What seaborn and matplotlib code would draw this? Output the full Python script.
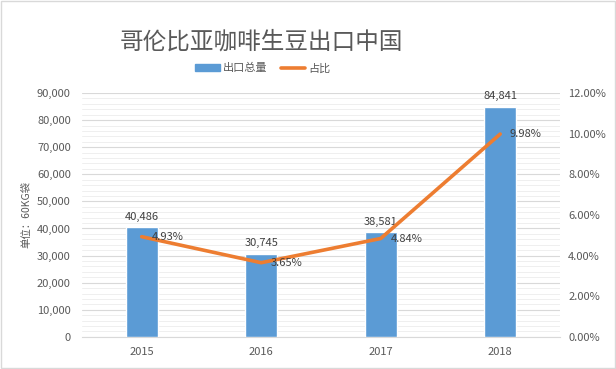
import numpy as np
import pandas as pd
import matplotlib
matplotlib.use("Agg")
import matplotlib.pyplot as plt
from matplotlib.patches import Rectangle
from matplotlib.lines import Line2D
from matplotlib.ticker import FuncFormatter, MultipleLocator, FixedLocator
import seaborn as sns

# data
years = ["2015", "2016", "2017", "2018"]
export_bags = [40486, 30745, 38581, 84841]
share_pct = [4.93, 3.65, 4.84, 9.98]

title = "哥伦比亚咖啡生豆出口中国"
bar_name = "出口总量"
line_name = "占比"
ylabel = "单位：60KG袋"

BLUE = "#5B9BD5"
ORANGE = "#ED7D31"
TXT = "#595959"

sns.set_style("white")
plt.rcParams["font.family"] = ["Noto Sans CJK SC", "DejaVu Sans"]

df = pd.DataFrame({"year": years, "bags": export_bags, "share": share_pct})

fig = plt.figure(figsize=(6.16, 3.69), dpi=100)
ax = fig.add_axes([0.133, 0.087, 0.776, 0.661])

sns.barplot(data=df, x="year", y="bags", color=BLUE, saturation=1,
            width=0.27, ax=ax, zorder=3)
ax.set_xlim(-0.5, len(years) - 0.5)
ax.set_ylim(0, 90000)
ax.yaxis.set_major_locator(MultipleLocator(10000))
ax.yaxis.set_minor_locator(MultipleLocator(2000))
ax.yaxis.set_major_formatter(FuncFormatter(lambda v, p: f"{v:,.0f}"))
ax.grid(axis="y", which="major", color="#D9D9D9", lw=0.8, zorder=0)
ax.grid(axis="y", which="minor", color="#EFEFEF", lw=0.7, zorder=0)
ax.set_axisbelow(True)
for s in ["top", "left", "right"]:
    ax.spines[s].set_visible(False)
ax.spines["bottom"].set_color("#D9D9D9")
ax.set_xlabel("")
ax.set_ylabel(ylabel, color=TXT, fontsize=7.5, labelpad=4)
ax.tick_params(axis="y", which="both", length=0, labelsize=8, labelcolor=TXT, pad=8)
ax.tick_params(axis="x", which="major", length=0, labelsize=8, labelcolor=TXT, pad=7)
ax.xaxis.set_minor_locator(FixedLocator(np.arange(len(years) + 1) - 0.5))
ax.tick_params(axis="x", which="minor", length=3, color="#D9D9D9")

ax.bar_label(ax.containers[0], labels=[f"{v:,.0f}" for v in export_bags],
             padding=4, fontsize=8, color="#404040")

ax2 = ax.twinx()
sns.lineplot(x=np.arange(len(years)), y=share_pct, color=ORANGE, lw=2.6,
             ax=ax2, zorder=4)
ax2.set_ylim(0, 12)
ax2.yaxis.set_major_locator(MultipleLocator(2))
ax2.yaxis.set_major_formatter(FuncFormatter(lambda v, p: f"{v:.2f}%"))
ax2.tick_params(axis="y", length=0, labelsize=8, labelcolor=TXT, pad=6)
for s in ax2.spines.values():
    s.set_visible(False)
ax2.set_xlim(-0.5, len(years) - 0.5)
for i, v in enumerate(share_pct):
    ax2.annotate(f"{v:.2f}%", (i, v), xytext=(7, 0), textcoords="offset points",
                 ha="left", va="center", fontsize=8, color="#404040", zorder=5)

fig.text(0.424, 0.886, title, ha="center", va="center", fontsize=17, color=TXT)

handles = [Rectangle((0, 0), 1, 1, color=BLUE),
           Line2D([0], [0], color=ORANGE, lw=2.6)]
fig.legend(handles, [bar_name, line_name], loc="center",
           bbox_to_anchor=(0.427, 0.815), ncol=2, frameon=False, fontsize=8,
           handlelength=2.2, handleheight=0.5, handletextpad=0.3,
           columnspacing=1.2, labelcolor=TXT)

fig.add_artist(Rectangle((0.001, 0.002), 0.997, 0.995, transform=fig.transFigure,
                         fill=False, edgecolor="#D9D9D9", lw=1))

fig.savefig("out.png", dpi=100, facecolor="white")
